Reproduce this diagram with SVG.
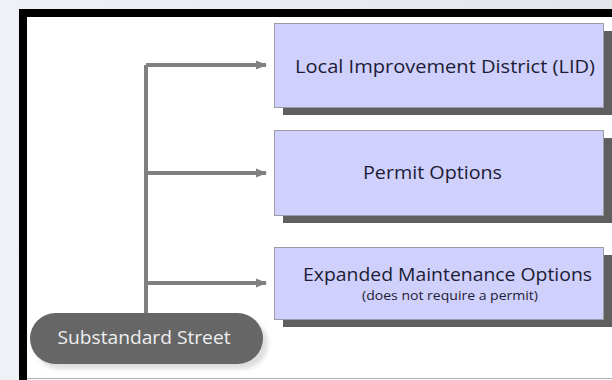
<svg xmlns="http://www.w3.org/2000/svg" width="612" height="380" viewBox="0 0 612 380">
<defs>
<linearGradient id="bg" x1="0" y1="0" x2="1" y2="0">
<stop offset="0" stop-color="#eef1f5"/><stop offset="1" stop-color="#e2e6eb"/>
</linearGradient>
<marker id="ah" markerWidth="11" markerHeight="11" refX="10" refY="5.5" orient="auto" markerUnits="userSpaceOnUse">
<path d="M0,1 L11,5.5 L0,10 Z" fill="#808080"/>
</marker>
<filter id="blur" x="-10%" y="-20%" width="130%" height="160%"><feGaussianBlur stdDeviation="2"/></filter>
</defs>
<style>
.box{fill:#d0d0fc;stroke:#9a9aa8;stroke-width:1}
.sh{fill:#5f5f5f}
.t{font-family:"Open Sans","DejaVu Sans",sans-serif;fill:#1c1c36;text-anchor:middle}
.c{stroke:#808080;stroke-width:4;fill:none}
</style>
<rect x="0" y="0" width="612" height="380" fill="url(#bg)"/>
<rect x="19" y="9" width="593" height="371" fill="#000"/>
<rect x="27" y="17" width="585" height="363" fill="#fff"/>
<line x1="27" y1="378.5" x2="612" y2="378.5" stroke="#b0b0b0" stroke-width="1"/>
<g id="connectors">
<path class="c" d="M146,313 V65"/>
<path class="c" d="M146,65 H266" marker-end="url(#ah)"/>
<path class="c" d="M146,173 H266" marker-end="url(#ah)"/>
<path class="c" d="M146,283 H266" marker-end="url(#ah)"/>
</g>
<g id="lid">
<rect class="sh" x="283" y="31" width="329" height="84"/>
<rect class="box" x="274.5" y="23.5" width="329" height="84"/>
<text class="t" x="445" y="73" font-size="19" textLength="300" lengthAdjust="spacingAndGlyphs">Local Improvement District (LID)</text>
</g>
<g id="permit">
<rect class="sh" x="283" y="138" width="329" height="85"/>
<rect class="box" x="274.5" y="130.5" width="329" height="85"/>
<text class="t" x="432.5" y="179" font-size="19" textLength="139" lengthAdjust="spacingAndGlyphs">Permit Options</text>
</g>
<g id="maintenance">
<rect class="sh" x="283" y="255" width="329" height="72"/>
<rect class="box" x="274.5" y="247.5" width="329" height="72"/>
<text class="t" x="447.5" y="281" font-size="19" textLength="289" lengthAdjust="spacingAndGlyphs">Expanded Maintenance Options</text>
<text class="t" x="450" y="300" font-size="13" textLength="176" lengthAdjust="spacingAndGlyphs">(does not require a permit)</text>
</g>
<g id="street">
<rect x="34" y="318" width="234" height="51" rx="25.5" fill="#c8c8c8" opacity="0.6" filter="url(#blur)"/>
<rect x="30" y="313" width="233" height="51" rx="25.5" fill="#666"/>
<text x="144" y="344" font-size="19" font-family="Open Sans, DejaVu Sans, sans-serif" fill="#eeeeee" text-anchor="middle" textLength="173" lengthAdjust="spacingAndGlyphs">Substandard Street</text>
</g>
</svg>
